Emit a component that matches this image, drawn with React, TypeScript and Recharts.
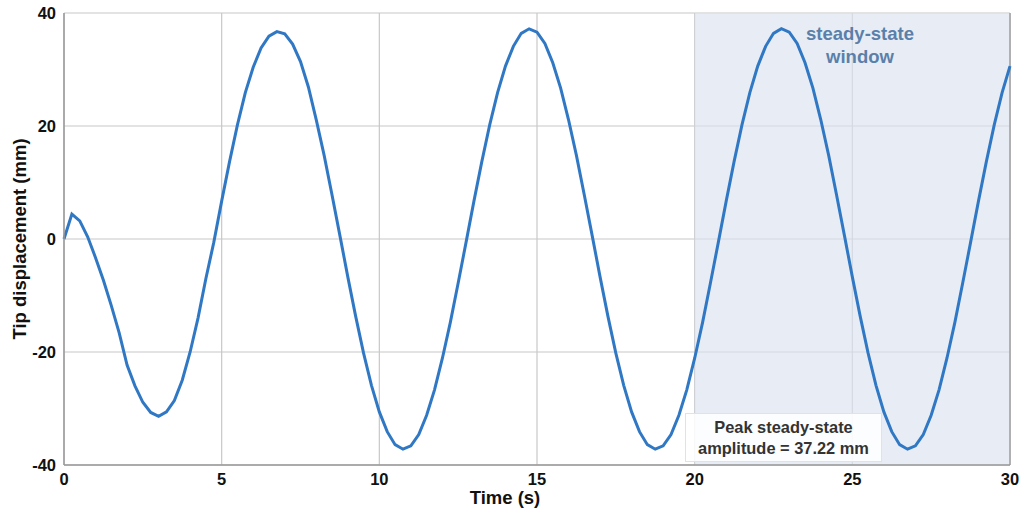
import React from 'react';
import { LineChart, Line, XAxis, YAxis, CartesianGrid, ReferenceArea, ReferenceLine } from 'recharts';

// time samples every 0.25 s, 0..30
const times: number[] = Array.from({ length: 121 }, (_, i) => i * 0.25);

// tip displacement (mm)
const displacement: number[] = [
    0, 4.4, 3.2, 0.4, -3.3, -7.3, -11.8, -16.6, -22.3, -26.0,
    -28.9, -30.7, -31.4, -30.6, -28.6, -25.0, -20.0, -14.0, -7.0, -0.6,
    6.7, 13.7, 20.2, 25.9, 30.4, 33.8, 35.9, 36.7, 36.3, 34.5,
    31.4, 26.9, 21.1, 14.8, 7.8, 0.6, -6.7, -13.7, -20.2, -25.9,
    -30.6, -34.1, -36.4, -37.2, -36.6, -34.6, -31.2, -26.7, -21.1, -14.8,
    -7.8, -0.6, 6.7, 13.7, 20.2, 25.9, 30.6, 34.1, 36.4, 37.2,
    36.6, 34.6, 31.2, 26.7, 21.1, 14.8, 7.8, 0.6, -6.7, -13.7,
    -20.2, -25.9, -30.6, -34.1, -36.4, -37.2, -36.6, -34.6, -31.2, -26.7,
    -21.1, -14.8, -7.8, -0.6, 6.7, 13.7, 20.2, 25.9, 30.6, 34.1,
    36.4, 37.22, 36.6, 34.6, 31.2, 26.7, 21.1, 14.8, 7.8, 0.6,
    -6.7, -13.7, -20.2, -25.9, -30.6, -34.1, -36.4, -37.2, -36.6, -34.6,
    -31.2, -26.7, -21.1, -14.8, -7.8, -0.6, 6.7, 13.7, 20.2, 25.9,
    30.6,
];

const xTicks = [0, 5, 10, 15, 20, 25, 30];
const yTicks = [-40, -20, 0, 20, 40];

const data = times.map((t, i) => ({ t, y: displacement[i] }));

const font = '"Liberation Sans", Arial, sans-serif';
const tickStyle = { fontSize: 16.5, fontWeight: 700, fill: '#111', fontFamily: font };
const titleStyle = { fontSize: 18.5, fontWeight: 700, fill: '#111', fontFamily: font };

const App: React.FC = () => {
    return (
        <div style={{ position: 'absolute', left: 0, top: 0, width: 1019, height: 512, fontFamily: font }}>
            <LineChart width={1019} height={512} data={data} margin={{ top: 13, right: 9, bottom: 0, left: 0 }}>
                <CartesianGrid stroke="#c8c8c8" strokeWidth={1.2} />
                <ReferenceArea x1={20} x2={30} y1={-40} y2={40} fill="#dce4f0" fillOpacity={0.65} stroke="none" />
                <ReferenceLine x={30} stroke="#a0a0a0" strokeWidth={1.5} />
                <XAxis
                    dataKey="t"
                    type="number"
                    domain={[0, 30]}
                    ticks={xTicks}
                    height={47}
                    tickLine={false}
                    axisLine={{ stroke: '#999', strokeWidth: 1.5 }}
                    tick={tickStyle}
                    label={{ value: 'Time (s)', position: 'insideBottom', offset: 8, dx: -32, style: titleStyle }}
                />
                <YAxis
                    type="number"
                    domain={[-40, 40]}
                    ticks={yTicks}
                    width={64}
                    tickLine={false}
                    axisLine={{ stroke: '#999', strokeWidth: 1.5 }}
                    tick={tickStyle}
                    label={{ value: 'Tip displacement (mm)', angle: -90, position: 'center', dx: -13, style: { ...titleStyle, textAnchor: 'middle' } }}
                />
                <Line type="linear" dataKey="y" stroke="#3078c4" strokeWidth={3} dot={false} isAnimationActive={false} />
            </LineChart>
            <div style={{ position: 'absolute', left: 785, top: 22, width: 150, textAlign: 'center', color: '#5a80aa', fontSize: 18.5, fontWeight: 700, lineHeight: '23px' }}>
                steady-state<br />window
            </div>
            <div style={{ position: 'absolute', left: 685, top: 413, width: 197, height: 49, boxSizing: 'border-box', background: 'rgba(255,255,255,0.85)', border: '1px solid #e2e2e2', textAlign: 'center', color: '#333', fontSize: 16.4, fontWeight: 700, lineHeight: '21px', paddingTop: 3 }}>
                Peak steady-state<br />amplitude = 37.22 mm
            </div>
        </div>
    );
};

export default App;
